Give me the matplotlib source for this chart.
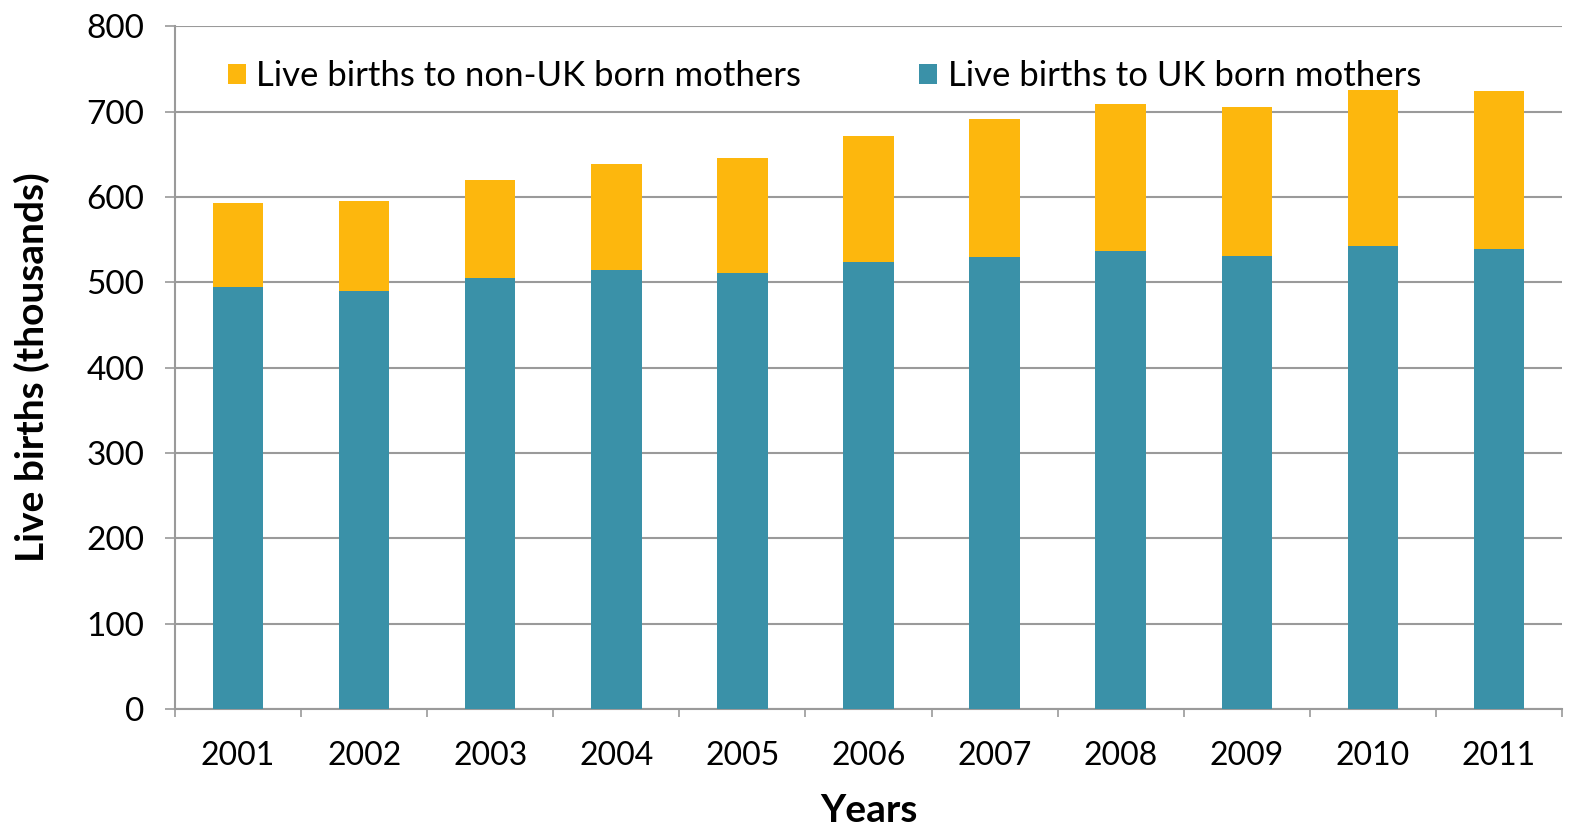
import numpy as np
import matplotlib.pyplot as plt
from matplotlib.ticker import FixedLocator

years = ["2001", "2002", "2003", "2004", "2005", "2006",
         "2007", "2008", "2009", "2010", "2011"]
uk_born = [495, 490, 505, 514, 511, 524, 530, 537, 531, 543, 539]
total = [593, 595, 620, 639, 646, 671, 691, 709, 706, 725, 724]
non_uk_born = [t - u for t, u in zip(total, uk_born)]

teal = "#3A91A8"
orange = "#FDB70D"
grey = "#9A9A9A"

plt.rcParams['font.family'] = ['Lato', 'DejaVu Sans']

fig = plt.figure(figsize=(15.75, 8.26), dpi=100)
ax = fig.add_axes([175 / 1575, 1 - 708.8 / 826, 1387 / 1575, 682.4 / 826])

x = np.arange(len(years))
ax.bar(x, uk_born, width=0.4, color=teal, label="Live births to UK born mothers", zorder=3)
ax.bar(x, non_uk_born, width=0.4, bottom=uk_born, color=orange,
       label="Live births to non-UK born mothers", zorder=3)

ax.set_xlim(-0.5, len(years) - 0.5)
ax.set_ylim(0, 800)
ax.set_yticks(range(0, 801, 100))
ax.tick_params(axis='y', labelsize=24, length=7, color=grey, width=1.2, pad=15)
ax.yaxis.grid(True, color=grey, linewidth=1.5, zorder=0)

ax.set_xticks(x)
ax.set_xticklabels(years)
ax.tick_params(axis='x', which='major', length=0, labelsize=23, pad=23)
ax.xaxis.set_minor_locator(FixedLocator(np.arange(-0.5, len(years), 1)))
ax.tick_params(axis='x', which='minor', length=6, color=grey, width=1.2)

for side in ['top', 'right']:
    ax.spines[side].set_visible(False)
for side in ['left', 'bottom']:
    ax.spines[side].set_color(grey)
    ax.spines[side].set_linewidth(1.5)

ax.set_xlabel("Years", fontsize=28, fontweight='bold', labelpad=16)
ax.set_ylabel("Live births (thousands)", fontsize=28, fontweight='bold', labelpad=26)

handles, labels = ax.get_legend_handles_labels()
ax.legend(handles[::-1], labels[::-1], ncol=2, loc='center left',
          bbox_to_anchor=(0.038, 0.927), frameon=False, fontsize=25,
          handlelength=0.52, handleheight=0.52, handletextpad=0.3,
          columnspacing=3.4, borderaxespad=0, borderpad=0)

fig.savefig("out.png", dpi=100)
